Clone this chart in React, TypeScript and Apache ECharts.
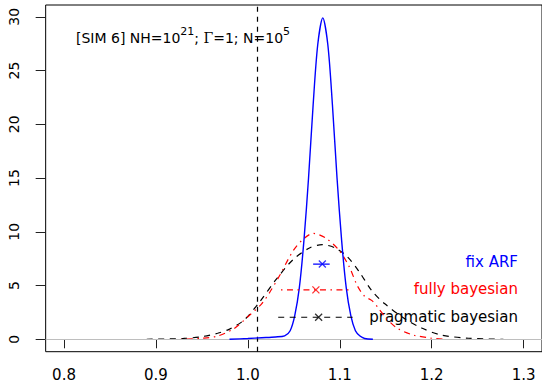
import React, { useEffect, useRef } from "react";
import * as echarts from "echarts";

const xTicks = [0.8, 0.9, 1.0, 1.1, 1.2, 1.3];
const yTicks = [0, 5, 10, 15, 20, 25, 30];

// density curves [x, density]
const fixArf = [
  [0.98, 0.0], [1.0, 0.08], [1.015, 0.15], [1.03, 0.22], [1.04, 0.32], [1.046, 0.8],
  [1.051, 2.2], [1.056, 4.8], [1.061, 9.2], [1.066, 15.0], [1.071, 21.8], [1.076, 27.4],
  [1.0815, 29.9], [1.087, 27.4], [1.092, 21.8], [1.097, 15.0], [1.102, 9.2], [1.107, 4.8],
  [1.112, 2.2], [1.117, 0.8], [1.122, 0.3], [1.127, 0.08], [1.136, 0.0],
];
const fullyBayesian = [
  [0.927, 0.0], [0.95, 0.1], [0.967, 0.3], [0.985, 1.0], [1.0, 2.1], [1.015, 3.3],
  [1.024, 4.4], [1.035, 6.0], [1.049, 8.2], [1.06, 9.3], [1.071, 9.85], [1.085, 9.4],
  [1.099, 8.3], [1.11, 6.8], [1.119, 5.0], [1.127, 4.0], [1.135, 3.6], [1.142, 2.9],
  [1.15, 2.0], [1.163, 1.0], [1.18, 0.4], [1.2, 0.1], [1.214, 0.0],
];
const pragmaticBayesian = [
  [0.89, 0.0], [0.93, 0.08], [0.95, 0.25], [0.967, 0.56], [0.98, 0.95], [0.996, 1.8],
  [1.013, 3.5], [1.031, 5.6], [1.049, 7.4], [1.067, 8.5], [1.081, 8.8], [1.095, 8.5],
  [1.108, 7.7], [1.121, 6.3], [1.135, 4.5], [1.149, 3.3], [1.171, 1.9], [1.189, 1.05],
  [1.21, 0.4], [1.24, 0.1], [1.278, 0.0],
];

// intervals (fix ARF, fully bayesian, pragmatic bayesian)
const methodNames = ["fix ARF", "fully bayesian", "pragmatic bayesian"];
const methodColors = ["#0000ff", "#ff0000", "#000000"];
const intervalCenter = [1.081, 1.074, 1.077];
const intervalLow = [1.071, 1.036, 1.033];
const intervalHigh = [1.089, 1.112, 1.114];
const intervalY = [7, 4.6, 2.05];

const referenceX = 1.015;
const titleText = "{t|[SIM 6] NH=10}{s|21}{t|; }{g|\u0393}{t|=1; N=10}{s|5}";

const FONT = "DejaVu Sans";

export default function App() {
  const ref = useRef<HTMLDivElement>(null);
  useEffect(() => {
    if (!ref.current) return;
    document.body.style.margin = "0";
    const chart = echarts.init(ref.current, null, { renderer: "svg" });
    const dashTypes: any[] = ["solid", [1.5, 4.5, 6, 4.5], [6, 5.5]];
    const curves = [fixArf, fullyBayesian, pragmaticBayesian];

    const series: any[] = [];
    series.push({
      type: "line",
      data: [],
      silent: true,
      z: 1,
      markLine: {
        silent: true,
        symbol: ["none", "none"],
        label: { show: false },
        animation: false,
        data: [
          { yAxis: 0, lineStyle: { color: "#bebebe", type: "solid", width: 1 } },
          { xAxis: referenceX, lineStyle: { color: "#000", type: [5, 5], width: 1.2 } },
        ],
      },
    });
    curves.forEach((c, i) => {
      series.push({
        type: "line",
        name: methodNames[i],
        data: c,
        smooth: 0.3,
        showSymbol: false,
        symbol: "none",
        z: 3 + (2 - i),
        lineStyle: { color: methodColors[i], width: i === 0 ? 1.4 : 1.2, type: dashTypes[i] },
      });
    });
    methodNames.forEach((n, i) => {
      series.push({
        type: "line",
        data: [
          [intervalLow[i], intervalY[i]],
          [intervalHigh[i], intervalY[i]],
        ],
        showSymbol: false,
        symbol: "none",
        z: 6,
        lineStyle: { color: methodColors[i], width: 1.2, type: dashTypes[i] },
      });
      series.push({
        type: "scatter",
        data: [[intervalCenter[i], intervalY[i]]],
        symbol: "path://M0,0L10,10M0,10L10,0",
        symbolSize: 7,
        z: 7,
        itemStyle: { color: "none", borderColor: methodColors[i], borderWidth: 1.3 },
      });
    });

    const legendY = [261.7, 289.3, 316.7];

    chart.setOption({
      animation: false,
      grid: {
        left: 45.66,
        right: -6.9,
        top: 5,
        bottom: 32.3,
        show: true,
        borderColor: "#000",
        borderWidth: 1,
        backgroundColor: "transparent",
      },
      xAxis: {
        type: "value",
        min: 0.78,
        max: 1.32,
        axisLine: { show: false },
        splitLine: { show: false },
        axisTick: { show: true, customValues: xTicks, length: 9, lineStyle: { color: "#222", width: 1 } },
        axisLabel: {
          customValues: xTicks,
          formatter: (v: number) => v.toFixed(1),
          fontFamily: FONT,
          fontSize: 15,
          color: "#000",
          margin: 16,
        },
      },
      yAxis: {
        type: "value",
        min: -1.153,
        max: 31.1,
        axisLine: { show: false },
        splitLine: { show: false },
        axisTick: { show: true, customValues: yTicks, length: 10, lineStyle: { color: "#222", width: 1 } },
        axisLabel: {
          customValues: yTicks,
          rotate: 90,
          fontFamily: FONT,
          fontSize: 14,
          color: "#000",
          margin: 25,
        },
      },
      graphic: [
        {
          type: "text",
          x: 76,
          y: 26,
          style: {
            text: titleText,
            textVerticalAlign: "top",
            rich: {
              t: { fontFamily: FONT, fontSize: 14, lineHeight: 24, verticalAlign: "middle", fill: "#000" },
              s: { fontFamily: FONT, fontSize: 11, lineHeight: 13, verticalAlign: "top", fill: "#000" },
              g: { fontFamily: "DejaVu Serif", fontSize: 14, lineHeight: 24, verticalAlign: "middle", fill: "#000" },
            },
          },
        },
        ...methodNames.map((n, i) => ({
          type: "text",
          x: 518,
          y: legendY[i],
          style: {
            text: n,
            fill: methodColors[i],
            font: `15px "${FONT}"`,
            textAlign: "right",
            textVerticalAlign: "middle",
          },
        })),
      ],
      series,
    });
    return () => chart.dispose();
  }, []);
  return <div ref={ref} style={{ width: 542, height: 384 }} />;
}
